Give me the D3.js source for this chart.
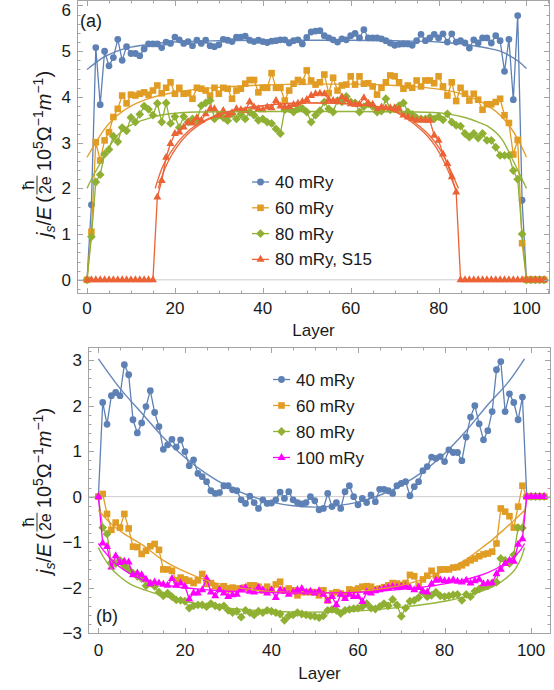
<!DOCTYPE html>
<html><head><meta charset="utf-8">
<script src="https://cdn.jsdelivr.net/npm/d3@7/dist/d3.min.js"></script>
<style>
html,body{margin:0;padding:0;background:#fff;}
svg{display:block;}
text{font-family:"Liberation Sans",Arial,Helvetica,sans-serif;fill:#1a1a1a;}
</style></head><body>
<svg id="chart" width="554" height="690"></svg>
<script>
// ---------- Panel (a) data: value per layer (index = layer) ----------
const a40 = [0,1.64,5.08,3.83,5.0,4.68,4.86,5.26,4.8,5.1,
4.95,4.95,4.9,5.05,5.16,5.16,5.16,5.08,5.2,5.17,
5.31,5.25,5.17,5.21,5.12,5.24,5.17,5.24,5.12,5.1,
5.14,5.26,5.24,5.21,5.31,5.31,5.33,5.24,5.21,5.24,
5.21,5.19,5.22,5.23,5.25,5.25,5.18,5.23,5.25,5.16,
5.3,5.42,5.44,5.45,5.34,5.29,5.25,5.2,5.27,5.25,
5.34,5.39,5.29,5.47,5.29,5.29,5.29,5.27,5.23,5.18,
5.13,5.15,5.16,5.16,5.13,5.23,5.37,5.23,5.29,5.37,
5.29,5.38,5.2,5.38,5.2,5.23,5.18,5.07,5.25,5.18,
5.29,5.29,5.18,5.34,5.23,4.56,5.26,3.94,5.78,1.74,
0,0,0,0,0];
const a60 = [0,1.05,3.01,2.61,3.05,3.23,3.56,3.74,4.03,3.86,
4.05,4.03,4.07,4.1,4.05,4.14,4.25,4.08,4.2,4.32,
4.07,4.2,4.07,4.08,3.96,4.2,4.18,4.14,4.03,4.2,
4.07,4.2,4.18,3.96,4.14,4.18,4.29,4.37,4.37,4.1,
4.2,4.2,4.52,4.2,4.2,3.92,4.14,4.29,4.37,4.33,
4.58,4.36,4.27,4.32,4.49,4.08,4.42,4.14,4.25,4.27,
4.45,4.27,4.45,4.29,4.3,4.23,4.05,4.2,4.32,4.47,
4.45,4.32,4.18,4.25,4.2,4.36,4.23,4.36,4.36,4.3,
4.45,4.23,4.03,4.32,3.91,4.2,4.07,3.92,4.07,3.94,
3.72,3.84,3.84,3.89,3.96,3.6,3.43,2.74,3.06,0.8,
0,0,0,0,0];
const a80 = [0,0.94,2.14,2.3,2.75,2.85,3.14,3.02,3.33,3.26,
3.55,3.45,3.62,3.8,3.73,3.6,3.86,3.45,3.87,3.42,
3.57,3.33,3.57,3.45,3.52,3.48,3.81,3.87,3.92,3.52,
3.6,3.55,3.48,3.63,3.52,3.62,3.52,3.67,3.6,3.49,
3.52,3.45,3.42,3.3,3.2,3.72,3.74,3.67,3.74,3.75,
3.67,3.45,3.6,3.7,3.89,3.74,3.67,3.92,3.89,4.01,
3.89,3.87,3.67,3.79,3.85,3.79,3.67,3.69,3.96,3.72,
3.74,3.81,3.87,3.67,3.62,3.54,3.52,3.52,3.56,3.52,
3.57,3.5,3.63,3.45,3.38,3.36,3.2,3.12,3.2,3.1,
3.2,3.05,3.05,2.9,2.72,2.72,2.72,2.39,2.2,1.0,
0,0,0,0,0];
const a80S15 = [0,0,0,0,0,0,0,0,0,0,
0,0,0,0,0,0,1.81,2.17,2.68,2.98,
3.2,3.23,3.34,3.45,3.43,3.55,3.49,3.63,3.74,3.74,
3.6,3.7,3.6,3.65,3.74,3.72,3.7,3.89,3.78,3.74,
3.72,3.78,3.76,3.92,3.8,3.78,3.79,3.83,3.86,3.9,
3.94,4.03,4.07,4.08,4.07,3.94,3.92,3.91,4.0,3.94,
3.85,3.84,3.84,3.98,3.86,3.84,3.72,3.78,3.76,3.76,
3.76,3.74,3.6,3.56,3.52,3.49,3.5,3.49,3.49,3.16,
3.05,2.75,2.54,2.25,1.92,0,0,0,0,0,
0,0,0,0,0,0,0,0,0,0,
0,0,0,0,0];
// fitted curves (layer, value)
const fitA40 = [[0,4.6],[2,4.75],[4,4.88],[6,4.97],[8,5.04],[10,5.09],[15,5.16],[20,5.2],[30,5.23],[40,5.24],[50,5.24],[60,5.24],[70,5.23],[80,5.2],[85,5.16],[88,5.12],[91,5.07],[94,5.0],[96,4.91],[98,4.79],[100,4.62]];
const fitA60 = [[0,2.68],[2,3.0],[4,3.3],[6,3.52],[8,3.68],[10,3.8],[13,3.93],[16,4.02],[20,4.1],[25,4.17],[30,4.21],[40,4.26],[50,4.28],[60,4.28],[70,4.25],[75,4.22],[80,4.17],[84,4.1],[88,3.97],[91,3.82],[94,3.6],[96,3.38],[98,3.08],[100,2.68]];
const fitA80 = [[0,2.0],[1,2.2],[3,2.55],[5.5,2.98],[8.5,3.3],[11,3.43],[14,3.53],[18,3.62],[25,3.67],[40,3.68],[60,3.68],[75,3.67],[82,3.63],[86,3.55],[89,3.45],[91.5,3.34],[94.5,3.06],[97,2.6],[99,2.2],[100,2.0]];
const fitS15a = [[15.5,2.0],[17,2.43],[19,2.78],[21,3.05],[23,3.25],[26,3.45],[30,3.62],[35,3.74],[40,3.81],[50,3.87],[60,3.85],[65,3.8],[70,3.7],[73,3.55],[76,3.33],[78,3.15],[80,2.9],[82,2.55],[84.5,2.0]];
const fitS15b = [[16.2,2.0],[17.7,2.43],[19.6,2.78],[21.6,3.05],[23.6,3.25],[26.5,3.45],[30.5,3.62],[35.4,3.74],[40.3,3.81],[50,3.87],[59.7,3.85],[64.6,3.8],[69.5,3.7],[72.4,3.55],[75.4,3.33],[77.4,3.15],[79.4,2.9],[81.4,2.55],[83.8,2.0]];

// ---------- Panel (b) data ----------
const b40 = [0,2.07,1.59,2.22,2.29,2.22,2.9,2.68,1.69,1.4,
1.62,1.98,2.33,1.85,1.54,1.04,1.14,1.26,1.09,1.25,
0.99,0.68,0.81,0.51,0.44,0.33,0.13,0.07,0.09,0.24,
0.24,0.15,0.13,-0.07,-0.15,0.01,-0.13,-0.26,-0.07,-0.15,
-0.14,-0.07,0.1,-0.04,0.11,-0.07,-0.13,-0.16,-0.13,0.0,
-0.09,-0.29,-0.26,0.07,-0.22,-0.13,-0.26,0.11,0.24,0.0,
-0.18,-0.04,-0.13,0.04,-0.11,0.16,0.16,0.13,0.07,0.24,
0.29,0.33,0.02,0.22,0.33,0.57,0.66,0.87,0.84,0.88,
0.77,1.03,0.97,0.97,0.79,1.31,1.75,2.0,1.6,1.25,
1.45,1.87,2.79,2.97,1.87,2.26,2.07,1.69,2.19,
0,0,0,0,0];
const b60 = [0,0.06,-0.38,-0.73,-0.57,-0.68,-0.38,-0.7,-1.1,-1.11,
-1.26,-1.19,-1.09,-1.04,-1.17,-1.6,-1.6,-1.63,-1.84,-1.78,
-1.82,-1.85,-1.9,-1.84,-1.7,-1.92,-1.9,-1.97,-2.02,-1.97,
-2.04,-2.0,-2.02,-2.02,-2.0,-1.95,-1.95,-1.98,-2.06,-1.98,
-2.05,-1.93,-1.87,-2.06,-2.02,-2.06,-2.17,-2.1,-2.1,-2.1,
-2.1,-2.17,-2.06,-2.28,-2.13,-2.1,-2.13,-2.17,-2.04,-2.06,
-2.02,-1.98,-1.97,-1.98,-2.04,-2.02,-1.99,-1.95,-1.9,-1.91,
-1.94,-1.9,-1.72,-1.75,-1.96,-1.82,-1.74,-1.63,-1.74,-1.6,
-1.6,-1.6,-1.56,-1.55,-1.51,-1.46,-1.4,-1.36,-1.31,-1.27,
-1.25,-1.21,-1.03,-0.26,-0.33,-0.43,-0.68,-0.22,0.24,
0,0,0,0,0];
const b80 = [0,-0.68,-0.82,-1.45,-1.47,-1.4,-1.52,-1.6,-1.68,-1.75,
-1.8,-1.96,-1.9,-1.97,-2.1,-2.18,-2.12,-2.2,-2.27,-2.28,
-2.3,-2.45,-2.4,-2.38,-2.38,-2.42,-2.35,-2.4,-2.43,-2.4,
-2.5,-2.55,-2.52,-2.65,-2.5,-2.55,-2.6,-2.52,-2.55,-2.5,
-2.52,-2.55,-2.58,-2.72,-2.62,-2.6,-2.55,-2.58,-2.6,-2.62,
-2.63,-2.66,-2.62,-2.5,-2.48,-2.5,-2.57,-2.5,-2.48,-2.46,
-2.45,-2.42,-2.35,-2.45,-2.47,-2.42,-2.35,-2.4,-2.26,-2.38,
-2.63,-2.45,-2.3,-2.28,-2.22,-2.1,-2.2,-2.17,-2.1,-2.18,
-2.2,-2.18,-2.16,-2.15,-2.28,-2.15,-2.2,-2.08,-2.03,-1.98,
-1.96,-1.9,-1.88,-1.36,-1.4,-1.47,-1.28,-0.68,-0.69,
0,0,0,0,0];
const b100 = [0,-1.02,-1.1,-1.55,-1.3,-1.45,-1.42,-1.44,-1.72,-1.68,
-1.72,-1.82,-1.92,-1.88,-1.9,-1.93,-1.95,-1.8,-1.95,-1.9,
-1.97,-2.25,-2.12,-2.12,-2.05,-1.8,-2.1,-2.18,-2.05,-2.12,
-2.2,-2.16,-2.15,-2.02,-2.0,-2.08,-2.1,-2.0,-2.05,-2.12,
-2.05,-2.22,-2.05,-2.08,-2.15,-2.1,-2.05,-2.02,-2.1,-2.08,
-2.12,-2.07,-2.15,-2.29,-2.2,-2.38,-2.15,-2.24,-2.15,-2.2,
-2.2,-2.31,-2.1,-2.12,-2.07,-2.05,-2.02,-2.0,-1.98,-1.99,
-1.98,-1.98,-2.0,-2.05,-2.0,-2.08,-2.1,-1.92,-1.84,-1.83,
-1.85,-1.85,-1.83,-1.86,-1.88,-1.84,-1.9,-1.85,-1.82,-1.92,
-1.9,-1.9,-1.7,-1.6,-1.47,-1.4,-1.42,-1.05,-0.93,
0,0,0,0,0];
const fitB40 = [[0,3.03],[5,2.38],[10,1.84],[15,1.3],[20,0.86],[25,0.5],[30,0.22],[35,0.02],[40,-0.12],[45,-0.2],[50,-0.23],[55,-0.2],[60,-0.12],[65,0.03],[70,0.25],[75,0.55],[80,0.95],[85,1.45],[90,2.02],[95,2.55],[98.5,3.03]];
const fitB60 = [[0,-0.3],[3,-0.6],[6,-0.82],[10,-1.05],[15,-1.4],[20,-1.65],[25,-1.84],[30,-1.96],[35,-2.04],[40,-2.09],[50,-2.12],[60,-2.09],[65,-2.03],[70,-1.95],[75,-1.82],[80,-1.63],[85,-1.38],[88,-1.17],[91,-0.95],[94,-0.7],[96,-0.53],[98.5,-0.3]];
const fitB80 = [[0,-1.12],[1,-1.3],[2,-1.45],[3,-1.58],[5,-1.76],[7,-1.9],[10,-2.03],[14,-2.15],[18,-2.26],[22,-2.34],[26,-2.41],[30,-2.45],[40,-2.52],[49,-2.54],[58,-2.52],[68,-2.45],[72,-2.41],[76,-2.36],[80,-2.3],[84,-2.22],[87,-2.13],[90,-2.03],[93,-1.88],[95,-1.73],[96.5,-1.57],[97.7,-1.35],[98.5,-1.12]];
const fitB100 = [[0,-1.03],[1.5,-1.22],[3.5,-1.43],[6.5,-1.65],[10,-1.82],[14,-1.92],[18,-1.98],[24,-2.04],[30,-2.08],[40,-2.11],[49,-2.12],[58,-2.11],[65,-2.08],[70,-2.04],[74,-2.0],[78,-1.95],[82,-1.88],[85,-1.82],[88,-1.74],[90,-1.67],[92,-1.58],[94,-1.47],[96,-1.32],[97.5,-1.18],[98.5,-1.03]];

const labelsA = ["40 mRy","60 mRy","80 mRy","80 mRy, S15"];
const labelsB = ["40 mRy","60 mRy","80 mRy","100 mRy"];
const xTicks = [0,20,40,60,80,100];
const yTicksA = [0,1,2,3,4,5,6];
const yTicksB = [-3,-2,-1,0,1,2,3];

const C40="#5E81B5", C60="#E19C24", C80="#8FB032", CS15="#EB6235", C100="#FF00FF";

const svg = d3.select("#chart");

function markerPath(type){
  if(type==="circle") return d3.symbol().type(d3.symbolCircle).size(Math.PI*3.4*3.4)();
  if(type==="square") return "M-3.3,-3.3H3.3V3.3H-3.3Z";
  if(type==="diamond") return "M0,-4.4L4.4,0L0,4.4L-4.4,0Z";
  return "M0,-4.6L4.0,2.4L-4.0,2.4Z";
}

function yTitle(cx, cy){
  const g = svg.append("g").attr("transform",`translate(${cx},${cy}) rotate(-90)`);
  const inner = g.append("g");
  const fs=20, ss=14, ff=16;
  const t1 = inner.append("text").attr("y",0).style("font-size",fs+"px");
  t1.append("tspan").style("font-style","italic").text("j");
  t1.append("tspan").style("font-style","italic").style("font-size",ss+"px").attr("dy",4).text("s");
  t1.append("tspan").attr("dy",-4).text("/");
  t1.append("tspan").style("font-style","italic").text("E");
  t1.append("tspan").text("\u2009(");
  const w = t1.node().getComputedTextLength();
  const fr = inner.append("g").attr("transform",`translate(${w+2},0)`);
  const den = fr.append("text").style("font-size",ff+"px").text("2e");
  const dw = den.node().getComputedTextLength();
  fr.append("text").style("font-size",(ff+1)+"px").attr("x",dw/2).attr("y",-17).attr("text-anchor","middle").text("\u0127");
  fr.append("line").attr("x1",-0.5).attr("x2",dw+0.5).attr("y1",-14).attr("y2",-14).attr("stroke","#1a1a1a").attr("stroke-width",0.9);
  const x2 = w+2+dw+5;
  const t2 = inner.append("text").attr("x",x2).style("font-size",fs+"px");
  t2.append("tspan").text("10");
  t2.append("tspan").style("font-size",ss+"px").attr("dy",-8).text("5");
  t2.append("tspan").attr("dy",8).text("\u03A9");
  t2.append("tspan").style("font-size",ss+"px").attr("dy",-8).text("\u22121");
  t2.append("tspan").attr("dy",8).style("font-style","italic").text("m");
  t2.append("tspan").style("font-size",ss+"px").attr("dy",-8).text("\u22121");
  t2.append("tspan").attr("dy",8).text(")");
  const total = x2 + t2.node().getComputedTextLength();
  inner.attr("transform",`translate(${-total/2},0)`);
}

function panel(cfg){
  const g = svg.append("g");
  const x = d3.scaleLinear().domain(cfg.xDomain).range([cfg.left, cfg.right]);
  const y = d3.scaleLinear().domain(cfg.yDomain).range([cfg.bottom, cfg.top]);
  g.append("line").attr("x1",cfg.left).attr("x2",cfg.right).attr("y1",y(0)).attr("y2",y(0))
    .attr("stroke","#cccccc").attr("stroke-width",1);
  const line = d3.line().x(d=>x(d[0])).y(d=>y(d[1]));
  const fitLine = d3.line().x(d=>x(d[0])).y(d=>y(d[1])).curve(d3.curveMonotoneX);
  cfg.series.forEach(s=>{
    const pts = s.values.map((v,i)=>[i,v]);
    g.append("path").attr("d",line(pts)).attr("fill","none").attr("stroke",s.color).attr("stroke-width",1.3).attr("stroke-linejoin","round");
    g.selectAll(null).data(pts).enter().append("path")
      .attr("d",markerPath(s.marker)).attr("transform",d=>`translate(${x(d[0])},${y(d[1])})`)
      .attr("fill",s.color);
  });
  cfg.fits.forEach(f=>{
    g.append("path").attr("d",fitLine(f.pts)).attr("fill","none").attr("stroke",f.color).attr("stroke-width",1.4).attr("opacity",0.95);
  });
  const fc="#a3a3a3";
  g.append("rect").attr("x",cfg.left+0.5).attr("y",cfg.top+0.5).attr("width",cfg.right-cfg.left-1).attr("height",cfg.bottom-cfg.top-1)
    .attr("fill","none").attr("stroke",fc).attr("stroke-width",1);
  const xMinor = d3.range(0,106,5);
  xMinor.forEach(v=>{
    const px = Math.round(x(v))+0.5, major = v%20===0, L = major?6:3.5;
    if(px<cfg.left||px>cfg.right) return;
    g.append("line").attr("x1",px).attr("x2",px).attr("y1",cfg.bottom).attr("y2",cfg.bottom-L).attr("stroke",fc);
    g.append("line").attr("x1",px).attr("x2",px).attr("y1",cfg.top).attr("y2",cfg.top+L).attr("stroke",fc);
  });
  const yLo = Math.ceil(cfg.yDomain[0]*5), yHi = Math.floor(cfg.yDomain[1]*5);
  for(let k=yLo;k<=yHi;k++){
    const v=k/5, py=Math.round(y(v))+0.5, major = k%5===0, L = major?6:3.5;
    g.append("line").attr("x1",cfg.left).attr("x2",cfg.left+L).attr("y1",py).attr("y2",py).attr("stroke",fc);
    g.append("line").attr("x1",cfg.right).attr("x2",cfg.right-L).attr("y1",py).attr("y2",py).attr("stroke",fc);
  }
  xTicks.forEach(v=>{
    g.append("text").attr("x",x(v)).attr("y",cfg.xLabelY).attr("text-anchor","middle").style("font-size","17px").text(v);
  });
  cfg.yTicks.forEach(v=>{
    g.append("text").attr("x",cfg.left-6).attr("y",Math.max(y(v)+6,16)).attr("text-anchor","end").style("font-size","17px").text(v<0?"\u2212"+Math.abs(v):v);
  });
  g.append("text").attr("x",(cfg.left+cfg.right)/2).attr("y",cfg.titleY).attr("text-anchor","middle").style("font-size","17px").text("Layer");
  g.append("text").attr("x",cfg.tag[0]).attr("y",cfg.tag[1]).style("font-size","18px").text(cfg.tagText);
  cfg.series.forEach((s,i)=>{
    const ly = cfg.legend.y0 + i*cfg.legend.dy;
    g.append("line").attr("x1",cfg.legend.x).attr("x2",cfg.legend.x+17).attr("y1",ly).attr("y2",ly).attr("stroke",s.color).attr("stroke-width",1.3);
    g.append("path").attr("d",markerPath(s.marker)).attr("transform",`translate(${cfg.legend.x+8.5},${ly})`).attr("fill",s.color);
    g.append("text").attr("x",cfg.legend.x+23).attr("y",ly+6).style("font-size","17px").text(s.label);
  });
}

panel({
  left:77, right:550, top:0, bottom:294,
  xDomain:[-2.28,105.35], yDomain:[-0.31,6.12], yTicks:yTicksA,
  xLabelY:314, titleY:336, tag:[80,27], tagText:"(a)",
  series:[
    {values:a40,color:C40,marker:"circle",label:labelsA[0]},
    {values:a60,color:C60,marker:"square",label:labelsA[1]},
    {values:a80,color:C80,marker:"diamond",label:labelsA[2]},
    {values:a80S15,color:CS15,marker:"triangle",label:labelsA[3]}
  ],
  fits:[{pts:fitA40,color:C40},{pts:fitA60,color:C60},{pts:fitA80,color:C80},{pts:fitS15a,color:CS15},{pts:fitS15b,color:CS15}],
  legend:{x:252,y0:182,dy:25.8}
});
panel({
  left:88, right:551, top:347, bottom:634,
  xDomain:[-2.4,104.6], yDomain:[-3.02,3.29], yTicks:yTicksB,
  xLabelY:656, titleY:679, tag:[96,622], tagText:"(b)",
  series:[
    {values:b40,color:C40,marker:"circle",label:labelsB[0]},
    {values:b60,color:C60,marker:"square",label:labelsB[1]},
    {values:b80,color:C80,marker:"diamond",label:labelsB[2]},
    {values:b100,color:C100,marker:"triangle",label:labelsB[3]}
  ],
  fits:[{pts:fitB40,color:C40},{pts:fitB60,color:C60},{pts:fitB80,color:C80},{pts:fitB100,color:C100}],
  legend:{x:273,y0:379.5,dy:26}
});
yTitle(51,154);
yTitle(51,491);
</script>
</body></html>
